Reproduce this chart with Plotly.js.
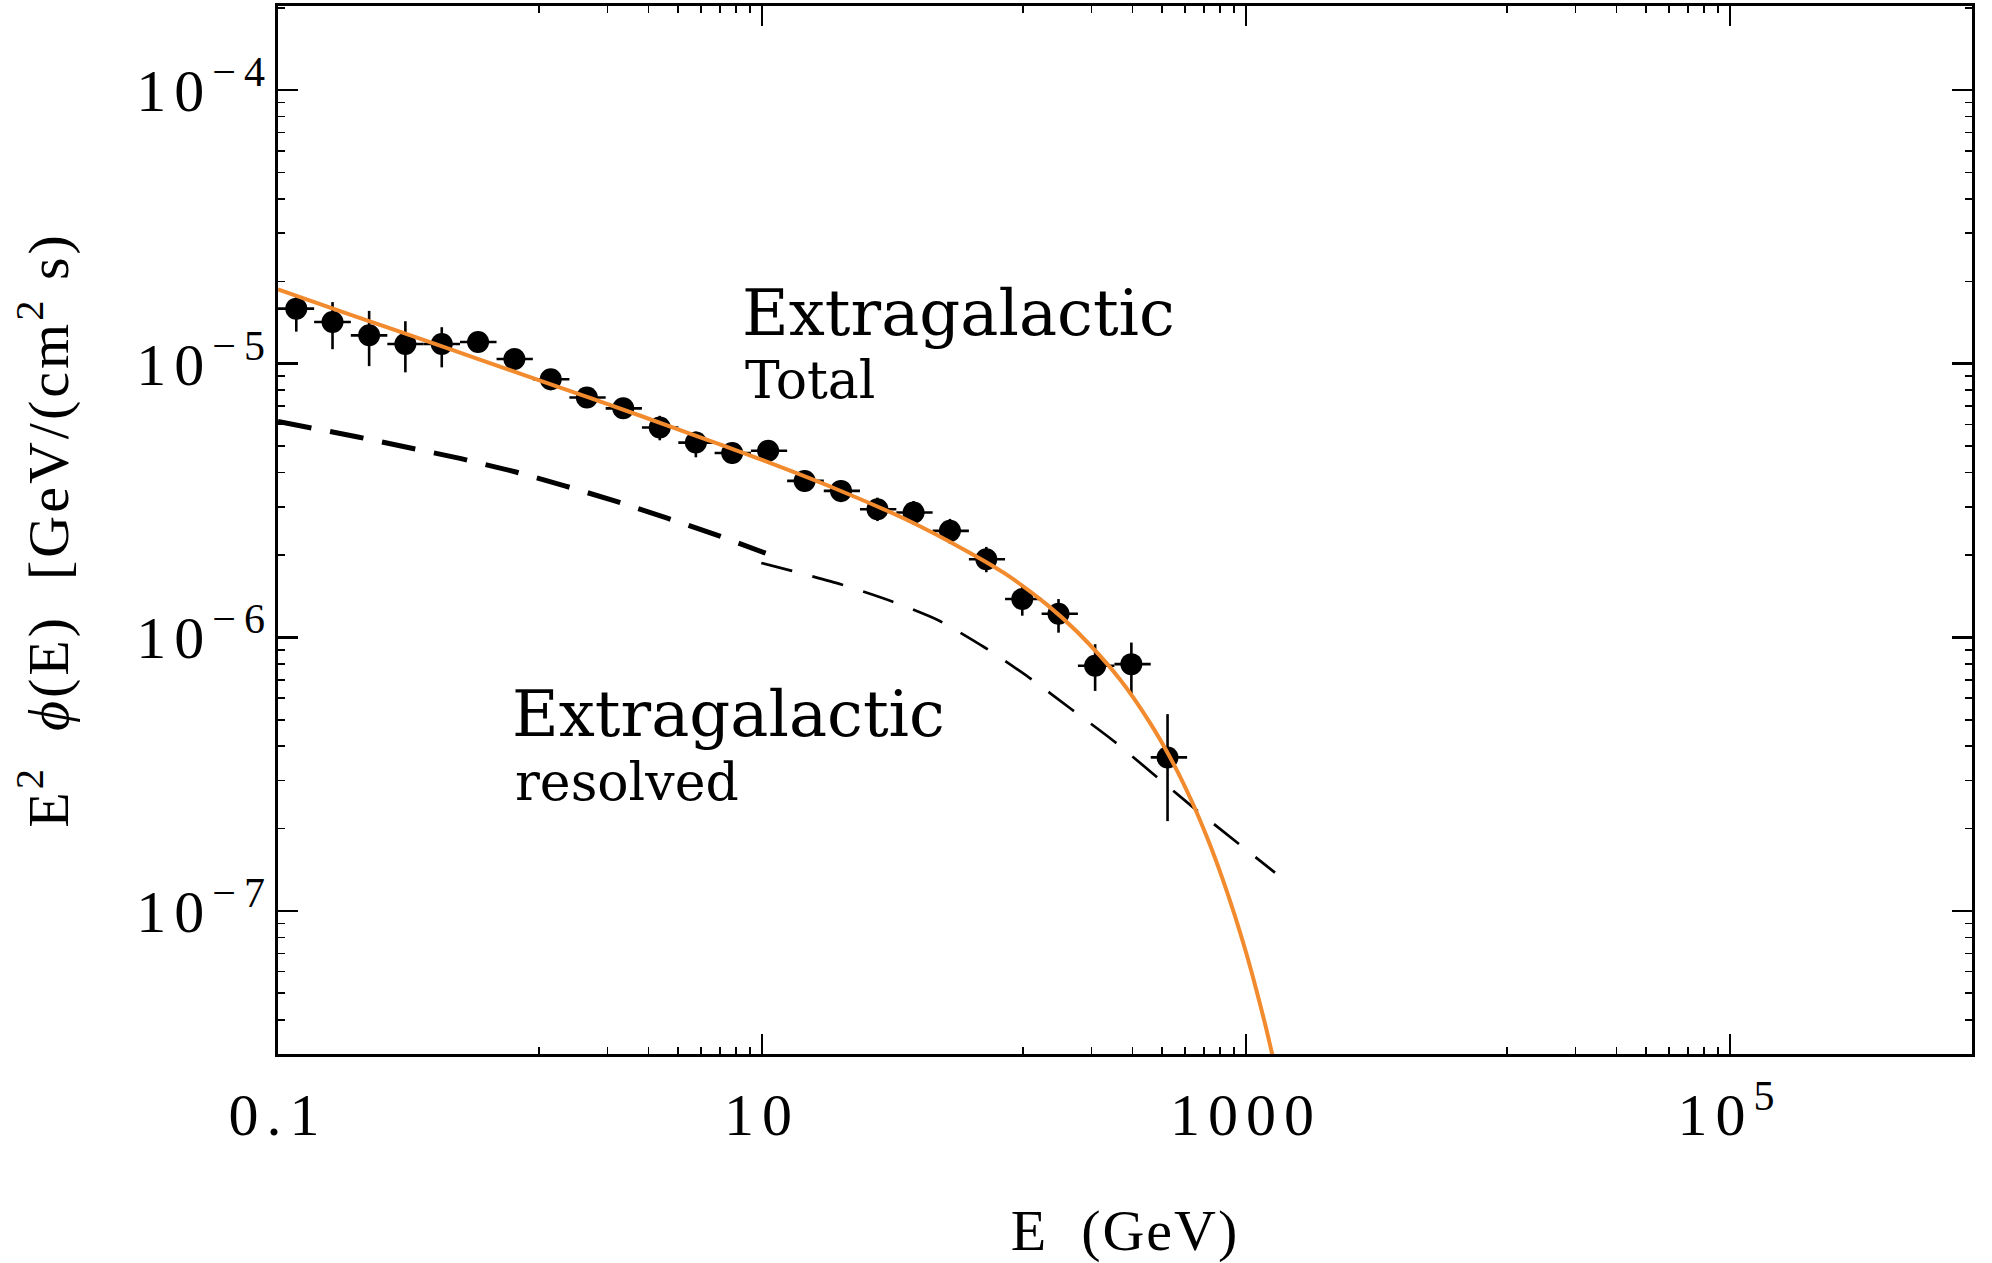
<!DOCTYPE html>
<html>
<head>
<meta charset="utf-8">
<script src="https://cdn.plot.ly/plotly-3.0.1.min.js"></script>
<style>
html, body { margin: 0; padding: 0; background: #ffffff; }
.xtick text, .ytick text { letter-spacing: 8px; }
.g-ytitle text { letter-spacing: 3px; }
.g-xtitle text { letter-spacing: 2px; }
</style>
</head>
<body>
<div id="chart" style="width:1992px;height:1263px;"></div>
<script>
// ---------------- data ----------------
// Fermi-LAT style EGB data points: bin centre energy (GeV), bin edges, flux and error limits
const binCentre = [0.119, 0.168, 0.238, 0.336, 0.475, 0.671, 0.948, 1.34, 1.89, 2.67, 3.78, 5.33, 7.53,
                   10.6, 15.0, 21.2, 30.0, 42.3, 59.8, 84.5, 119, 168, 238, 336, 474];
const binLow    = [0.100, 0.141, 0.200, 0.283, 0.400, 0.565, 0.800, 1.13, 1.60, 2.26, 3.19, 4.51, 6.37,
                   9.00, 12.7, 18.0, 25.4, 35.9, 50.7, 71.6, 101, 143, 202, 286, 404];
const binHigh   = [0.141, 0.200, 0.283, 0.400, 0.565, 0.800, 1.13, 1.60, 2.26, 3.19, 4.51, 6.37, 9.00,
                   12.7, 18.0, 25.4, 35.9, 50.7, 71.6, 101, 143, 202, 286, 404, 571];
const fluxTotal = [1.59e-5, 1.42e-5, 1.27e-5, 1.18e-5, 1.18e-5, 1.20e-5, 1.04e-5, 8.78e-6, 7.53e-6, 6.87e-6,
                   5.85e-6, 5.15e-6, 4.72e-6, 4.81e-6, 3.73e-6, 3.43e-6, 2.94e-6, 2.86e-6, 2.45e-6, 1.93e-6,
                   1.38e-6, 1.22e-6, 7.87e-7, 7.98e-7, 3.64e-7];
const fluxHigh  = [1.75e-5, 1.68e-5, 1.56e-5, 1.43e-5, 1.36e-5, 1.29e-5, 1.13e-5, 9.50e-6, 8.20e-6, 7.50e-6,
                   6.45e-6, 5.65e-6, 5.15e-6, 5.25e-6, 4.08e-6, 3.75e-6, 3.24e-6, 3.15e-6, 2.71e-6, 2.14e-6,
                   1.54e-6, 1.38e-6, 9.44e-7, 9.57e-7, 5.24e-7];
const fluxLow   = [1.31e-5, 1.13e-5, 9.80e-6, 9.30e-6, 9.70e-6, 1.11e-5, 9.50e-6, 8.00e-6, 6.90e-6, 6.30e-6,
                   5.25e-6, 4.55e-6, 4.30e-6, 4.40e-6, 3.40e-6, 3.12e-6, 2.66e-6, 2.58e-6, 2.20e-6, 1.73e-6,
                   1.20e-6, 1.04e-6, 6.37e-7, 6.19e-7, 2.13e-7];

// Orange model curve (Extragalactic total)
const modelEnergy = [0.1, 0.2, 0.5, 1, 2, 5, 10, 20, 40, 70, 100, 150, 200, 300, 400, 500,
                     600, 700, 800, 900, 1000, 1100, 1200, 1300];
const modelFlux   = [1.87e-5, 1.51e-5, 1.14e-5, 9.2e-6, 7.44e-6, 5.57e-6, 4.45e-6, 3.50e-6, 2.68e-6, 2.07e-6,
                     1.72e-6, 1.32e-6, 1.05e-6, 7.06e-7, 4.89e-7, 3.47e-7, 2.49e-7, 1.80e-7, 1.31e-7, 9.6e-8,
                     7.06e-8, 5.2e-8, 3.85e-8, 2.85e-8];

// Resolved extragalactic (dashed): low-energy thick part and high-energy thin part
const resolvedLowE    = [0.1, 0.214, 0.571, 0.953, 1.53, 2.50, 4.09, 6.56, 10.35];
const resolvedLowFlux = [6.15e-6, 5.40e-6, 4.50e-6, 4.03e-6, 3.58e-6, 3.14e-6, 2.72e-6, 2.36e-6, 2.03e-6];
const resolvedHighE    = [9.93, 13.3, 21.3, 34.3, 54.0, 83.6, 127, 190, 283, 605, 1318];
const resolvedHighFlux = [1.87e-6, 1.75e-6, 1.56e-6, 1.355e-6, 1.15e-6, 9.16e-7, 7.13e-7, 5.46e-7, 4.19e-7, 2.39e-7, 1.38e-7];

// Axis ticks
const xTickVals = [0.1, 10, 1000, 1e5];
const xTickText = ["0.1", "10", "1000", "10<sup>5</sup>"];
const xMinorVals = [1.2, 2.3, 3.4, 4.5, 5.6, 6.7, 7.8, 8.9,
                    120, 230, 340, 450, 560, 670, 780, 890,
                    12000, 23000, 34000, 45000, 56000, 67000, 78000, 89000];
const yTickVals = [1e-4, 1e-5, 1e-6, 1e-7];
const yTickText = ["10<sup>\u22124</sup>", "10<sup>\u22125</sup>", "10<sup>\u22126</sup>", "10<sup>\u22127</sup>"];

// Labels
const labelTotalMain = "Extragalactic";
const labelTotalSub = "Total";
const labelResolvedMain = "Extragalactic";
const labelResolvedSub = "resolved";
const xTitle = "E\u00A0\u00A0(GeV)";
const yTitle = "E<sup>2</sup>\u00A0\u00A0<i>\u03D5</i>(E)\u00A0\u00A0[GeV/(cm<sup>2</sup>\u00A0s)";

// ---------------- build ----------------
const yMinor = [];
for (let d = -8; d <= -4; d++) {
  for (let k = 2; k <= 9; k++) yMinor.push(k * Math.pow(10, d));
}

const errUp = fluxTotal.map((v, i) => fluxHigh[i] - v);
const errDn = fluxTotal.map((v, i) => v - fluxLow[i]);
const exUp = binCentre.map((v, i) => binHigh[i] - v);
const exDn = binCentre.map((v, i) => v - binLow[i]);

const traces = [
  {
    x: resolvedLowE, y: resolvedLowFlux, type: 'scatter', mode: 'lines',
    line: { color: '#000000', width: 5, dash: '34px,19px' }, hoverinfo: 'skip', showlegend: false
  },
  {
    x: resolvedHighE, y: resolvedHighFlux, type: 'scatter', mode: 'lines',
    line: { color: '#000000', width: 2.7, dash: '32px,21px', shape: 'spline', smoothing: 0.6 },
    hoverinfo: 'skip', showlegend: false
  },
  {
    x: binCentre, y: fluxTotal, type: 'scatter', mode: 'markers',
    marker: { color: '#000000', size: 22 },
    error_y: { type: 'data', symmetric: false, array: errUp, arrayminus: errDn, width: 0, thickness: 2.6, color: '#000000' },
    error_x: { type: 'data', symmetric: false, array: exUp, arrayminus: exDn, width: 0, thickness: 2.6, color: '#000000' },
    showlegend: false
  },
  {
    x: modelEnergy, y: modelFlux, type: 'scatter', mode: 'lines',
    line: { color: '#F28A2E', width: 4, shape: 'spline', smoothing: 0.8 }, showlegend: false
  }
];

const serif = "'Liberation Serif', 'Times New Roman', serif";
const tickFont = { family: serif, size: 60, color: '#000000' };
const titleFont = { family: serif, size: 58, color: '#000000' };
const annFont = "'DejaVu Serif', serif";

const layout = {
  width: 1992, height: 1263,
  margin: { l: 278, r: 20, t: 6, b: 209 },
  paper_bgcolor: '#ffffff', plot_bgcolor: '#ffffff',
  showlegend: false,
  xaxis: {
    type: 'log', range: [-1, 6], autorange: false,
    tickmode: 'array', tickvals: xTickVals, ticktext: xTickText,
    ticks: 'inside', ticklen: 20, tickwidth: 2.5, tickcolor: '#000000',
    showline: true, linewidth: 3, linecolor: '#000000', mirror: 'ticks',
    showgrid: false, zeroline: false, automargin: false,
    ticklabelstandoff: 6,
    tickfont: tickFont,
    minor: { tickmode: 'array', tickvals: xMinorVals, ticks: 'inside', ticklen: 7, tickwidth: 1.6, tickcolor: '#000000', showgrid: false },
    title: { text: xTitle, font: titleFont, standoff: 74 }
  },
  yaxis: {
    type: 'log', range: [Math.log10(3.0e-8), Math.log10(2.03e-4)], autorange: false,
    tickmode: 'array', tickvals: yTickVals, ticktext: yTickText,
    ticks: 'inside', ticklen: 20, tickwidth: 2.5, tickcolor: '#000000',
    showline: true, linewidth: 3, linecolor: '#000000', mirror: 'ticks',
    showgrid: false, zeroline: false, automargin: false,
    ticklabelstandoff: -10,
    tickfont: tickFont,
    minor: { tickmode: 'array', tickvals: yMinor, ticks: 'inside', ticklen: 7, tickwidth: 1.6, tickcolor: '#000000', showgrid: false },
    title: { text: yTitle, font: titleFont, standoff: 50 }
  },
  annotations: [
    { xref: 'paper', yref: 'paper', x: 0.2727, y: 0.7075, xanchor: 'left', yanchor: 'middle',
      text: labelTotalMain, showarrow: false, font: { family: annFont, size: 64, color: '#000000' } },
    { xref: 'paper', yref: 'paper', x: 0.2745, y: 0.6431, xanchor: 'left', yanchor: 'middle',
      text: labelTotalSub, showarrow: false, font: { family: annFont, size: 52, color: '#000000' } },
    { xref: 'paper', yref: 'paper', x: 0.1371, y: 0.3249, xanchor: 'left', yanchor: 'middle',
      text: labelResolvedMain, showarrow: false, font: { family: annFont, size: 64, color: '#000000' } },
    { xref: 'paper', yref: 'paper', x: 0.1389, y: 0.2595, xanchor: 'left', yanchor: 'middle',
      text: labelResolvedSub, showarrow: false, font: { family: annFont, size: 52, color: '#000000' } }
  ]
};

Plotly.newPlot('chart', traces, layout, { displayModeBar: false, staticPlot: true });
</script>
</body>
</html>
